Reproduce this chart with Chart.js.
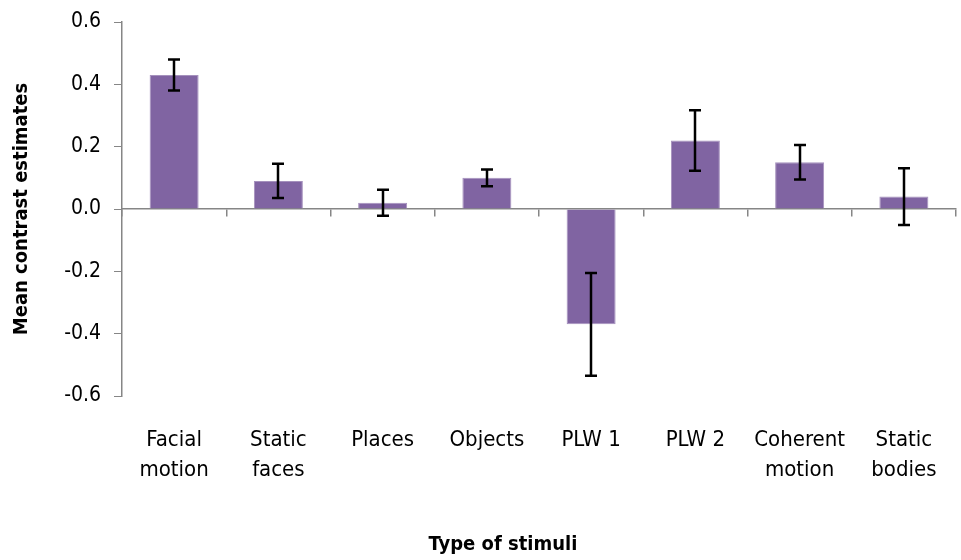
<!DOCTYPE html>
<html>
<head>
<meta charset="utf-8">
<script src="https://cdn.jsdelivr.net/npm/chart.js@4"></script>
<style>
  html, body { margin: 0; padding: 0; background: #fff; }
  #wrap { width: 961px; height: 560px; }
</style>
</head>
<body>
<div id="wrap"><canvas id="c" width="961" height="560"></canvas></div>
<script>
// Stimulus categories (multi-line labels)
const categories = [
  ['Facial', 'motion'], ['Static', 'faces'], ['Places'], ['Objects'],
  ['PLW 1'], ['PLW 2'], ['Coherent', 'motion'], ['Static', 'bodies']
];
// Mean contrast estimates per stimulus type
const means = [0.43, 0.09, 0.02, 0.10, -0.37, 0.22, 0.15, 0.04];
// Error bar half-widths (+/-)
const errors = [0.05, 0.055, 0.042, 0.027, 0.165, 0.097, 0.055, 0.091];
// Y axis tick values
const yTicks = [-0.6, -0.4, -0.2, 0.0, 0.2, 0.4, 0.6];

const FONT = "'Liberation Sans Narrow', 'Arial Narrow', 'DejaVu Sans Condensed', sans-serif";
const AXIS_GREY = '#868686';

// Draws the vertical error bars with caps on each bar
const errorBars = {
  id: 'errorBars',
  afterDatasetsDraw(chart) {
    const meta = chart.getDatasetMeta(0);
    const y = chart.scales.y;
    const ctx = chart.ctx;
    ctx.save();
    ctx.strokeStyle = '#000';
    ctx.lineWidth = 2.5;
    meta.data.forEach((bar, i) => {
      const hi = y.getPixelForValue(means[i] + errors[i]);
      const lo = y.getPixelForValue(means[i] - errors[i]);
      const x = Math.round(bar.x);
      ctx.beginPath();
      ctx.moveTo(x, hi); ctx.lineTo(x, lo);
      ctx.moveTo(x - 6, hi); ctx.lineTo(x + 6, hi);
      ctx.moveTo(x - 6, lo); ctx.lineTo(x + 6, lo);
      ctx.stroke();
    });
    ctx.restore();
  }
};

// Horizontal axis title, drawn below the category labels
const xTitle = {
  id: 'xTitle',
  afterDraw(chart) {
    const ctx = chart.ctx;
    ctx.save();
    ctx.font = 'bold 20px ' + FONT;
    ctx.fillStyle = '#000';
    ctx.textAlign = 'center';
    ctx.textBaseline = 'middle';
    ctx.fillText('Type of stimuli', 503, 545);
    ctx.restore();
  }
};

// Keep the plot area fixed by the layout padding only
function noEdgePadding(s) {
  s.paddingTop = 0; s.paddingBottom = 0;
  s.paddingLeft = 0; s.paddingRight = 0;
}

new Chart(document.getElementById('c'), {
  type: 'bar',
  data: {
    labels: categories,
    datasets: [{
      data: means,
      backgroundColor: '#8064A2',
      borderColor: '#A591BD',
      borderWidth: 1,
      barPercentage: 0.47,
      categoryPercentage: 1.0,
      xAxisID: 'x'
    }]
  },
  options: {
    responsive: false,
    animation: false,
    events: [],
    layout: { padding: { top: 22, right: 5, left: 0, bottom: 0 } },
    plugins: { legend: { display: false }, tooltip: { enabled: false } },
    scales: {
      x: {
        type: 'category',
        position: 'bottom',
        offset: true,
        border: { display: false },
        grid: { display: false, drawTicks: false },
        ticks: {
          color: '#000',
          font: { family: FONT, size: 22, lineHeight: 1.36 },
          padding: 29,
          maxRotation: 0,
          autoSkip: false
        },
        afterFit(s) { s.height = 164; noEdgePadding(s); }
      },
      x0: {
        type: 'category',
        labels: categories,
        position: { y: 0 },
        offset: true,
        border: { display: true, color: AXIS_GREY, width: 1.5 },
        grid: { display: true, drawOnChartArea: false, drawTicks: true, tickLength: 7, color: AXIS_GREY, tickColor: AXIS_GREY, offset: true, lineWidth: 1.5 },
        ticks: { display: false },
        afterFit(s) { s.height = 0; noEdgePadding(s); }
      },
      y: {
        min: -0.6,
        max: 0.6,
        border: { display: true, color: AXIS_GREY, width: 1.5 },
        grid: { drawOnChartArea: false, drawTicks: true, tickLength: 8, tickColor: AXIS_GREY, color: AXIS_GREY },
        afterBuildTicks(s) { s.ticks = yTicks.map(v => ({ value: v })); },
        ticks: {
          color: '#000',
          font: { family: FONT, size: 21 },
          padding: 13,
          callback: v => (Math.abs(v) < 1e-9 ? 0 : v).toFixed(1)
        },
        title: {
          display: true,
          text: 'Mean contrast estimates',
          color: '#000',
          font: { family: FONT, size: 20, weight: 'bold' },
          padding: { top: 10, bottom: 0 }
        },
        afterFit(s) { s.width = 122; noEdgePadding(s); }
      }
    }
  },
  plugins: [errorBars, xTitle]
});
</script>
</body>
</html>
